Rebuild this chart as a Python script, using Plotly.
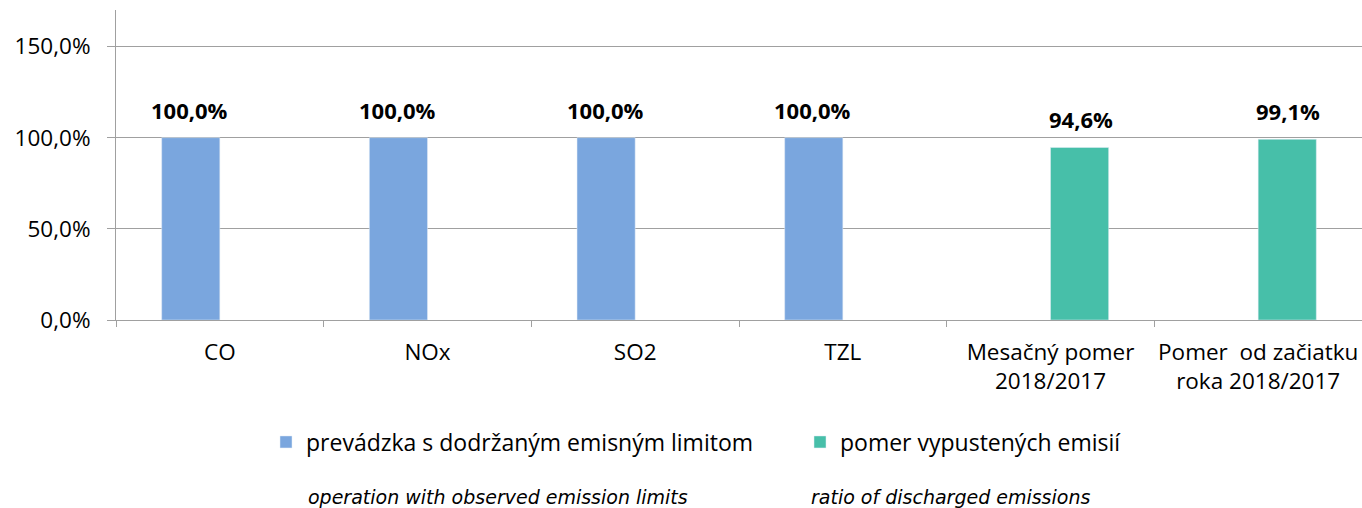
import plotly.graph_objects as go

categories = ["CO", "NOx", "SO2", "TZL", "Mesačný pomer<br>2018/2017", "Pomer  od začiatku<br>roka 2018/2017"]
limit_values = [100.0, 100.0, 100.0, 100.0, None, None]
ratio_values = [None, None, None, None, 94.6, 99.1]
series_names = ["prevádzka s dodržaným emisným limitom", "pomer vypustených emisií"]
english_names = ["operation with observed emission limits", "ratio of discharged emissions"]
y_ticks = [0, 50, 100, 150]
colors = ["#7AA6DE", "#47BFA9"]


def pct(v):
    return f"{v:.1f}".replace(".", ",") + "%"


FONT = "Open Sans"
FS = 22.5
PW = 1246
fig = go.Figure()
fig.add_trace(go.Bar(x=categories, y=limit_values, name=series_names[0], marker_color=colors[0]))
fig.add_trace(go.Bar(x=categories, y=ratio_values, name=series_names[1], marker_color=colors[1]))

for i, series in enumerate((limit_values, ratio_values)):
    for c, v in zip(categories, series):
        if v is None:
            continue
        fig.add_annotation(x=c, y=v, text=f"<b>{pct(v)}</b>", showarrow=False, yanchor="bottom",
                           xshift=-30 if i == 0 else 30, yshift=10, bgcolor="white",
                           font=dict(family=FONT, size=22, color="#000"), borderpad=2)

for name, xl in zip(english_names, (307, 810)):
    fig.add_annotation(xref="paper", yref="paper", x=(xl - 116) / PW, y=-(497 - 320) / 310,
                       xanchor="left", yanchor="middle", text=f"<i>{name}</i>", showarrow=False,
                       borderpad=0, font=dict(family="DejaVu Sans", size=19, color="#000"))

fig.update_layout(
    width=1362, height=508,
    margin=dict(l=116, r=0, t=10, b=188, autoexpand=False),
    paper_bgcolor="white", plot_bgcolor="white",
    barmode="group", bargap=0.44, bargroupgap=0,
    font=dict(family=FONT, size=FS, color="#000"),
    showlegend=True,
    legend=dict(orientation="h", x=(266 - 116) / PW, xanchor="left", y=-(442 - 320) / 310,
                yanchor="middle", entrywidth=489, entrywidthmode="pixels",
                font=dict(family=FONT, size=23, color="#000"), itemclick=False),
    xaxis=dict(showgrid=False, showline=True, linecolor="#a0a0a0", linewidth=1,
               ticks="outside", tickson="boundaries", ticklen=6, tickcolor="#a0a0a0",
               ticklabelstandoff=12, tickangle=0, automargin=False,
               tickfont=dict(family=FONT, size=FS, color="#000")),
    yaxis=dict(range=[0, 170], tickvals=y_ticks, ticktext=[pct(t) for t in y_ticks],
               showgrid=True, gridcolor="#a0a0a0", gridwidth=1, zeroline=False,
               showline=True, linecolor="#a0a0a0", linewidth=1, ticks="outside", ticklen=8,
               tickcolor="#a0a0a0", ticklabelstandoff=12, automargin=False,
               tickfont=dict(family=FONT, size=FS, color="#000")),
)
fig.write_html("out.html", config={"displayModeBar": False},
               post_script="document.body.style.margin='0';")
